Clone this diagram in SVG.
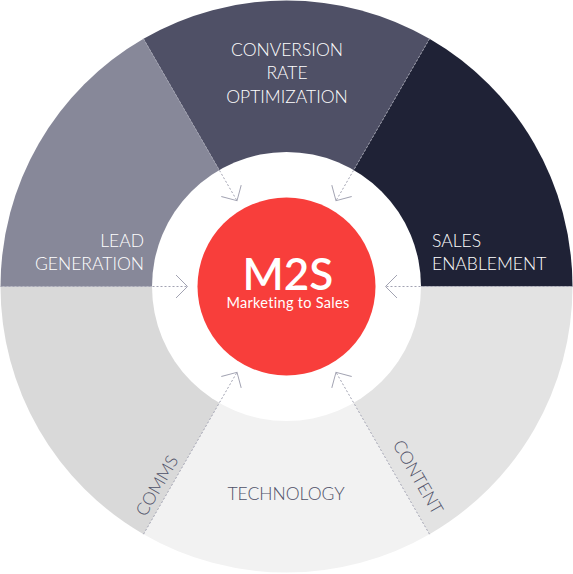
<svg xmlns="http://www.w3.org/2000/svg" width="573" height="574" viewBox="0 0 573 574">
<style>
.lbl{font-family:Lato,"Liberation Sans",sans-serif;font-weight:300;font-size:17.5px;}
.w{fill:#ffffff;}
.d{fill:#4f5168;}
.con{fill:none;stroke:#a2a3b2;stroke-width:1;stroke-dasharray:2 2;}
</style>
<defs>
<marker id="ah" markerUnits="userSpaceOnUse" markerWidth="30" markerHeight="30" viewBox="-15 -15 30 30" refX="0" refY="0" orient="auto">
<path d="M -11.5 -11.5 L 0 0 L -11.5 11.5" fill="none" stroke="#a2a3b2" stroke-width="1"/>
</marker>
</defs>
<rect width="573" height="574" fill="#ffffff"/>
<g id="segments">
<g id="cro"><path d="M286.5 286.5 L143.5 38.82 A286 286 0 0 1 429.5 38.82 Z" fill="#4f5066"/></g>
<g id="sales"><path d="M286.5 286.5 L429.5 38.82 A286 286 0 0 1 572.5 286.5 Z" fill="#1f2236"/></g>
<g id="content"><path d="M286.5 286.5 L572.5 286.5 A286 286 0 0 1 429.5 534.18 Z" fill="#e3e3e3"/></g>
<g id="tech"><path d="M286.5 286.5 L429.5 534.18 A286 286 0 0 1 143.5 534.18 Z" fill="#f2f2f2"/></g>
<g id="comms"><path d="M286.5 286.5 L143.5 534.18 A286 286 0 0 1 0.5 286.5 Z" fill="#d9d9d9"/></g>
<g id="leadgen"><path d="M286.5 286.5 L0.5 286.5 A286 286 0 0 1 143.5 38.82 Z" fill="#878899"/></g>
<circle cx="286.5" cy="286.5" r="134.5" fill="#ffffff"/>
</g>
<g id="connectors">
<line class="con" x1="143.5" y1="38.82" x2="237" y2="200.76" marker-end="url(#ah)"/>
<line class="con" x1="429.5" y1="38.82" x2="336" y2="200.76" marker-end="url(#ah)"/>
<line class="con" x1="572.5" y1="286.5" x2="385.5" y2="286.5" marker-end="url(#ah)"/>
<line class="con" x1="429.5" y1="534.18" x2="336" y2="372.24" marker-end="url(#ah)"/>
<line class="con" x1="143.5" y1="534.18" x2="237" y2="372.24" marker-end="url(#ah)"/>
<line class="con" x1="0.5" y1="286.5" x2="187.5" y2="286.5" marker-end="url(#ah)"/>
</g>
<g id="center">
<circle cx="286.5" cy="286.5" r="89" fill="#f83e3b"/>
<text x="288" y="290" text-anchor="middle" font-family="Lato,'Liberation Sans',sans-serif" font-size="44" font-weight="600" fill="#ffffff">M2S</text>
<text x="288" y="308" text-anchor="middle" font-family="Lato,'Liberation Sans',sans-serif" font-size="14.5" font-weight="400" letter-spacing="0.3" fill="#ffffff">Marketing to Sales</text>
</g>
<g id="label-cro">
<text class="lbl w" text-anchor="middle" x="287" y="56">CONVERSION</text>
<text class="lbl w" text-anchor="middle" x="287" y="79">RATE</text>
<text class="lbl w" text-anchor="middle" x="287" y="102.5">OPTIMIZATION</text>
</g>
<g id="label-leadgen">
<text class="lbl w" text-anchor="end" x="144" y="247">LEAD</text>
<text class="lbl w" text-anchor="end" x="144" y="270">GENERATION</text>
</g>
<g id="label-sales">
<text class="lbl w" x="432" y="247">SALES</text>
<text class="lbl w" x="432" y="270">ENABLEMENT</text>
</g>
<g id="label-tech">
<text class="lbl d" text-anchor="middle" x="286" y="499.5">TECHNOLOGY</text>
</g>
<g id="label-comms">
<text class="lbl d" text-anchor="middle" transform="translate(167.8 492) rotate(-60)" x="0" y="-6.5">COMMS</text>
</g>
<g id="label-content">
<text class="lbl d" text-anchor="middle" transform="translate(402 486.5) rotate(60)" x="0" y="-12.5">CONTENT</text>
</g>
</svg>
